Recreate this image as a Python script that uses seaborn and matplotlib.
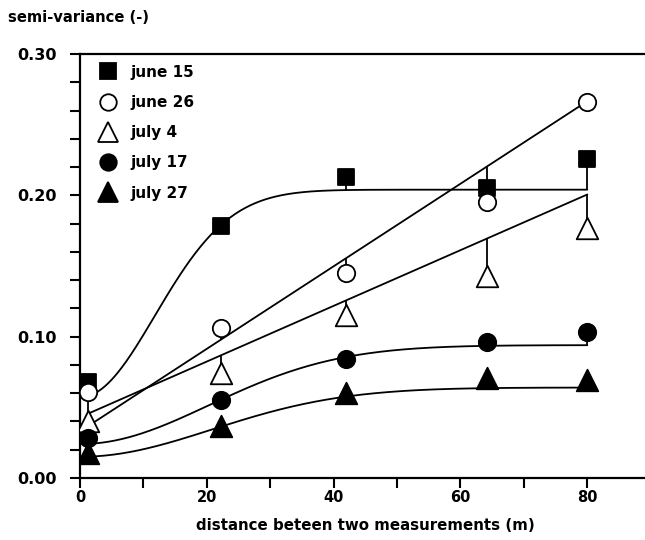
import numpy as np
import pandas as pd
import matplotlib
matplotlib.use("Agg")
import matplotlib.pyplot as plt
from matplotlib.lines import Line2D
from matplotlib.ticker import MultipleLocator, FixedLocator
import seaborn as sns

# Observed semi-variances per sampling date
distance = [1.3, 22.2, 42.0, 64.2, 80.0]
dates = ["june 15", "june 26", "july 4", "july 17", "july 27"]
june15 = [0.068, 0.178, 0.213, 0.205, 0.226]
june26 = [0.061, 0.106, 0.145, 0.195, 0.266]
july4 = [0.040, 0.074, 0.115, 0.143, 0.177]
july17 = [0.028, 0.055, 0.084, 0.096, 0.103]
july27 = [0.018, 0.037, 0.060, 0.071, 0.069]

# Fitted variogram models: gaussian (nugget, partial sill, range) or linear (intercept, slope)
model_kind = ["gaussian", "linear", "linear", "gaussian", "gaussian"]
model_params = [
    (0.057, 0.147, 16.7),
    (0.033, 0.00292),
    (0.043, 0.00197),
    (0.024, 0.070, 28.8),
    (0.015, 0.049, 29.4),
]

markers = ["s", "o", "^", "o", "^"]
filled = [True, False, False, True, True]
msizes = [11.5, 12.5, 15.5, 12.5, 15.5]

values = [june15, june26, july4, july17, july27]


def model(kind, p, h):
    h = np.asarray(h, dtype=float)
    if kind == "linear":
        return p[0] + p[1] * h
    return p[0] + p[1] * (1.0 - np.exp(-(h / p[2]) ** 2))


sns.set_style("ticks")
plt.rcParams["font.family"] = ["DejaVu Sans"]
plt.rcParams["font.weight"] = "bold"
plt.rcParams["text.color"] = "black"
plt.rcParams["xtick.color"] = "black"
plt.rcParams["ytick.color"] = "black"
plt.rcParams["axes.labelcolor"] = "black"

fig = plt.figure(figsize=(6.45, 5.4), dpi=100)
ax = fig.add_axes([80 / 645, 62 / 540, 565 / 645, 424 / 540])

h = np.linspace(distance[0], distance[-1], 300)
for vals, kind, p, mk, fl, ms in zip(values, model_kind, model_params, markers, filled, msizes):
    curve = pd.DataFrame({"h": h, "g": model(kind, p, h)})
    sns.lineplot(data=curve, x="h", y="g", ax=ax, color="black", lw=1.3, zorder=2)
    fit_at_obs = model(kind, p, distance)
    ax.vlines(distance, vals, fit_at_obs, color="black", lw=1.3, zorder=2)
    obs = pd.DataFrame({"d": distance, "v": vals})
    sns.scatterplot(data=obs, x="d", y="v", ax=ax, marker=mk, s=ms ** 2,
                    facecolor="black" if fl else "white", edgecolor="black",
                    linewidth=1.3, zorder=3)

ax.set_xlim(0, 89.1)
ax.set_ylim(0, 0.30)
ax.xaxis.set_major_locator(FixedLocator([0, 20, 40, 60, 80]))
ax.xaxis.set_minor_locator(FixedLocator([10, 30, 50, 70]))
ax.yaxis.set_major_locator(FixedLocator([0.0, 0.1, 0.2, 0.3]))
ax.yaxis.set_minor_locator(MultipleLocator(0.02))
ax.set_yticklabels(["0.00", "0.10", "0.20", "0.30"])
ax.tick_params(which="both", direction="out", length=7, width=1.5,
               color="black", labelcolor="black")
ax.tick_params(axis="y", which="major", labelsize=11.5, pad=9.5)
ax.tick_params(axis="x", which="major", labelsize=10.5, pad=2)
for lab in ax.get_xticklabels() + ax.get_yticklabels():
    lab.set_fontweight("bold")

for side in ["left", "bottom", "top"]:
    ax.spines[side].set_linewidth(1.6)
    ax.spines[side].set_color("black")
ax.spines["right"].set_visible(False)

ax.set_xlabel("")
ax.set_ylabel("")
fig.text(365 / 645, 1 - 526 / 540, "distance beteen two measurements (m)",
         ha="center", va="center", fontsize=10.8, fontweight="bold", color="black")
fig.text(8 / 645, 1 - 18 / 540, "semi-variance (-)",
         ha="left", va="center", fontsize=10.6, fontweight="bold", color="black")

handles = [
    Line2D([], [], ls="none", marker=mk, markersize=ms * 0.95,
           markerfacecolor="black" if fl else "white", markeredgecolor="black",
           markeredgewidth=1.3)
    for mk, fl, ms in zip(markers, filled, msizes)
]
leg = ax.legend(handles, dates, loc="upper left",
                bbox_to_anchor=(6 / 565, 1 - 1.5 / 424),
                frameon=False, handlelength=1.7, handletextpad=0.6,
                labelspacing=1.0, borderaxespad=0.3, borderpad=0.3,
                prop={"size": 11, "weight": "bold"})
for t in leg.get_texts():
    t.set_color("black")

fig.savefig("out.png", dpi=100)
